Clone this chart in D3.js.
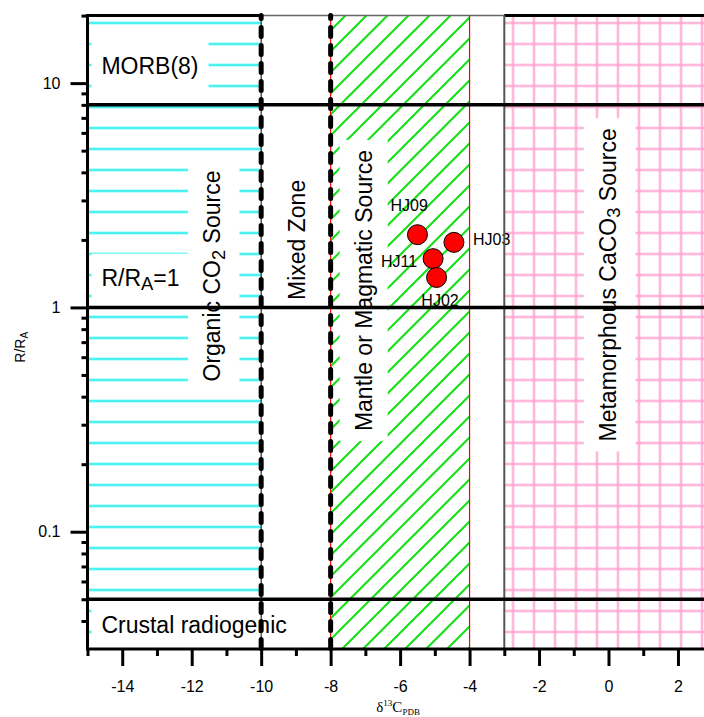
<!DOCTYPE html>
<html>
<head>
<meta charset="utf-8">
<script src="https://cdn.jsdelivr.net/npm/d3@7"></script>
<style>
  html, body { margin: 0; padding: 0; background: #fff; }
  svg { display: block; font-family: "Liberation Sans", Arial, sans-serif; }
</style>
</head>
<body>
<div id="chart"></div>
<script>
// Samples: delta13C (PDB) against R/RA
const sampleNames = ["HJ09", "HJ03", "HJ11", "HJ02"];
const sampleD13C = [-5.5, -4.45, -5.05, -4.95];
const sampleRRa = [2.11, 1.95, 1.65, 1.36];
// where each sample name sits (data units) and how it is anchored
const sampleLabelX = [-5.74, -3.9, -5.51, -4.85];
const sampleLabelY = [2.7, 1.9, 1.52, 1.01];
const sampleLabelAnchor = ["middle", "start", "end", "middle"];

// Source fields along the delta13C axis
const fieldX0 = [-15, -8, -3];
const fieldX1 = [-10, -4, 3];
const fieldFill = ["cyanLines", "greenHatch", "pinkGrid"];

// Boundaries
const rRaBounds = [8, 1, 0.05];     // MORB, air, crustal
const mixBounds = [-10, -8];        // mixed zone (dashed)
const redBounds = [-8, -4];         // mantle field edges
const greyBounds = [-3];            // metamorphic field edge

// Field annotations ("_" marks a subscript character)
const noteText = ["MORB(8)", "R/R_A=1", "Crustal radiogenic", "Organic CO_2 Source",
  "Mixed Zone", "Mantle or Magmatic Source", "Metamorphous CaCO_3 Source"];
const noteX = [-14.6, -14.6, -14.6, -11.42, -8.97, -7.05, -0.02];
const noteY = [11, 1.25, 0.0355, 1.38, 2.0, 1.19, 1.26];
const noteVertical = [false, false, false, true, true, true, true];

// Axes
const xDomain = [-15, 3];
const yDomain = [0.03, 20];
const xMajor = [-14, -12, -10, -8, -6, -4, -2, 0, 2];
const xMinor = [-15, -13, -11, -9, -7, -5, -3, -1, 1, 3];
const yMajor = [0.1, 1, 10];
const yMinor = [0.04, 0.05, 0.06, 0.07, 0.08, 0.09, 0.2, 0.3, 0.4, 0.5, 0.6, 0.7, 0.8, 0.9,
  2, 3, 4, 5, 6, 7, 8, 9, 20];

const width = 704, height = 717;
const m = { left: 87.5, top: 15.6, bottom: 68 };
const plotRight = 712.7;   // the original figure is cut off just before x = 3

const svg = d3.select('#chart').append('svg').attr('width', width).attr('height', height);

const x = d3.scaleLinear().domain(xDomain).range([m.left, plotRight]);
const y = d3.scaleLog().domain(yDomain).range([height - m.bottom, m.top]);
const yTop = y(yDomain[1]), yBot = y(yDomain[0]);

// ---- fill patterns
const defs = svg.append('defs');
const cyan = defs.append('pattern').attr('id', 'cyanLines').attr('patternUnits', 'userSpaceOnUse')
  .attr('x', 0).attr('y', -8.5).attr('width', 21).attr('height', 21);
cyan.append('rect').attr('x', 0).attr('y', 9.5).attr('width', 21).attr('height', 2).attr('fill', '#10eeee');

const green = defs.append('pattern').attr('id', 'greenHatch').attr('patternUnits', 'userSpaceOnUse')
  .attr('x', 4).attr('y', 0).attr('width', 21).attr('height', 21);
green.append('path').attr('d', 'M0,21L21,0M-2,2L2,-2M19,23L23,19')
  .attr('stroke', '#11e011').attr('stroke-width', 2).attr('fill', 'none');

const pink = defs.append('pattern').attr('id', 'pinkGrid').attr('patternUnits', 'userSpaceOnUse')
  .attr('x', -1.5).attr('y', -8.5).attr('width', 21).attr('height', 21);
pink.append('rect').attr('x', 9.5).attr('y', 0).attr('width', 2).attr('height', 21).attr('fill', '#ff9fcf');
pink.append('rect').attr('x', 0).attr('y', 9.5).attr('width', 21).attr('height', 2).attr('fill', '#ff9fcf');

// ---- fields
svg.append('g').selectAll('rect')
  .data(fieldFill)
  .join('rect')
  .attr('x', (d, i) => x(fieldX0[i]))
  .attr('y', yTop)
  .attr('width', (d, i) => x(fieldX1[i]) - x(fieldX0[i]))
  .attr('height', yBot - yTop)
  .attr('fill', d => `url(#${d})`);

// ---- annotations with white boxes
function writeParts(text, str, fs) {
  const parts = str.split(/_(.)/);
  let shifted = false;
  parts.forEach((p, i) => {
    if (!p) return;
    const sub = i % 2 === 1;
    const t = text.append('tspan').text(p);
    if (sub) { t.attr('font-size', fs * 0.8).attr('dy', fs * 0.2); shifted = true; }
    else if (shifted) { t.attr('dy', -fs * 0.2); shifted = false; }
  });
}

const noteFs = 23;
noteText.forEach((str, i) => {
  const vert = noteVertical[i];
  const g = svg.append('g')
    .attr('transform', `translate(${x(noteX[i])},${y(noteY[i])})` + (vert ? ' rotate(-90)' : ''));
  const box = g.append('rect').attr('fill', '#fff');
  const t = g.append('text')
    .attr('font-size', noteFs)
    .attr('text-anchor', vert ? 'middle' : 'start')
    .attr('dy', vert ? '0.35em' : 0)
    .attr('fill', '#000');
  writeParts(t, str, noteFs);
  const bb = t.node().getBBox();
  box.attr('x', bb.x - 10).attr('y', bb.y - 11)
    .attr('width', bb.width + 20).attr('height', bb.height + 22);
});

// ---- sample names
svg.append('g').selectAll('text')
  .data(sampleNames)
  .join('text')
  .attr('x', (d, i) => x(sampleLabelX[i]))
  .attr('y', (d, i) => y(sampleLabelY[i]))
  .attr('text-anchor', (d, i) => sampleLabelAnchor[i])
  .attr('font-size', 16)
  .text(d => d);

// ---- frame and boundary lines
const lines = svg.append('g');
lines.append('line').attr('x1', x(-15)).attr('x2', width).attr('y1', yTop).attr('y2', yTop)
  .attr('stroke', '#666').attr('stroke-width', 1.5);
// heavy tops on the organic and metamorphic fields
[0, 2].forEach(i => {
  lines.append('line').attr('x1', x(fieldX0[i])).attr('x2', x(fieldX1[i]))
    .attr('y1', yTop).attr('y2', yTop).attr('stroke', '#000').attr('stroke-width', 3);
});
lines.append('line').attr('x1', x(-10)).attr('x2', x(-10)).attr('y1', yTop).attr('y2', yBot)
  .attr('stroke', '#000').attr('stroke-width', 1);
lines.selectAll('.grey').data(greyBounds).join('line').attr('class', 'grey')
  .attr('x1', d => x(d)).attr('x2', d => x(d)).attr('y1', yTop).attr('y2', yBot)
  .attr('stroke', '#555').attr('stroke-width', 2);
lines.selectAll('.red').data(redBounds).join('line').attr('class', 'red')
  .attr('x1', d => x(d)).attr('x2', d => x(d)).attr('y1', yTop).attr('y2', yBot)
  .attr('stroke', '#f00').attr('stroke-width', 1.2);
lines.selectAll('.hb').data(rRaBounds).join('line').attr('class', 'hb')
  .attr('x1', x(-15)).attr('x2', width).attr('y1', d => y(d)).attr('y2', d => y(d))
  .attr('stroke', '#000').attr('stroke-width', 3.5);
lines.selectAll('.dash').data(mixBounds).join('line').attr('class', 'dash')
  .attr('x1', d => x(d)).attr('x2', d => x(d)).attr('y1', yTop).attr('y2', yBot)
  .attr('stroke', '#000').attr('stroke-width', 5)
  .attr('stroke-dasharray', '9,9').attr('stroke-dashoffset', 6)
  .attr('stroke-linecap', 'round');

// ---- axes
function styleAxis(g) {
  g.select('.domain').remove();
  g.selectAll('.tick line').attr('stroke', '#000').attr('stroke-width', 3);
  g.selectAll('.tick text').attr('font-size', 16).attr('fill', '#000')
    .attr('font-family', '"Liberation Sans", Arial, sans-serif');
}
const fmt = d => String(d);

svg.append('g').attr('transform', `translate(0,${yBot})`)
  .call(d3.axisBottom(x).tickValues(xMajor).tickSize(17).tickPadding(15).tickSizeOuter(0).tickFormat(fmt))
  .call(styleAxis);
svg.append('g').attr('transform', `translate(0,${yBot})`)
  .call(d3.axisBottom(x).tickValues(xMinor).tickSize(7).tickSizeOuter(0).tickFormat(''))
  .call(styleAxis);
svg.append('g').attr('transform', `translate(${m.left},0)`)
  .call(d3.axisLeft(y).tickValues(yMajor).tickSize(17).tickPadding(10).tickSizeOuter(0).tickFormat(fmt))
  .call(styleAxis);
svg.append('g').attr('transform', `translate(${m.left},0)`)
  .call(d3.axisLeft(y).tickValues(yMinor).tickSize(6).tickSizeOuter(0).tickFormat(''))
  .call(styleAxis);

lines.append('line').attr('x1', m.left).attr('x2', m.left).attr('y1', yTop - 1.5).attr('y2', yBot + 1.5)
  .attr('stroke', '#000').attr('stroke-width', 3);
svg.append('line').attr('x1', m.left).attr('x2', width).attr('y1', yBot).attr('y2', yBot)
  .attr('stroke', '#000').attr('stroke-width', 3);

// ---- axis titles
const yt = svg.append('text')
  .attr('transform', `translate(25,${(yTop + yBot) / 2 + 15}) rotate(-90)`)
  .attr('text-anchor', 'middle').attr('font-size', 14);
yt.append('tspan').text('R/R');
yt.append('tspan').text('A').attr('font-size', 10).attr('dy', 3);

const xt = svg.append('text')
  .attr('x', (x(xDomain[0]) + x(xDomain[1])) / 2 - 2)
  .attr('y', yBot + 63)
  .attr('text-anchor', 'middle')
  .attr('font-family', '"Liberation Serif", "Times New Roman", serif')
  .attr('font-size', 15);
xt.append('tspan').text('δ');
xt.append('tspan').text('13').attr('font-size', 9).attr('dy', -6);
xt.append('tspan').text('C').attr('dy', 6);
xt.append('tspan').text('PDB').attr('font-size', 9).attr('dy', 3);

// ---- samples
svg.append('g').selectAll('circle')
  .data(sampleNames)
  .join('circle')
  .attr('cx', (d, i) => x(sampleD13C[i]))
  .attr('cy', (d, i) => y(sampleRRa[i]))
  .attr('r', 10)
  .attr('fill', '#f00')
  .attr('stroke', '#000')
  .attr('stroke-width', 1);
</script>
</body>
</html>
